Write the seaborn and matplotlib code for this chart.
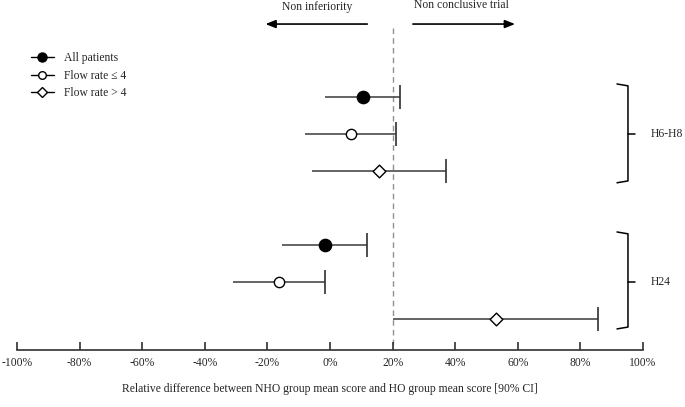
import numpy as np
import pandas as pd
import matplotlib
matplotlib.use("Agg")
import matplotlib.pyplot as plt
from matplotlib.lines import Line2D
import seaborn as sns

# ---- data ----
groups = ["H6-H8", "H6-H8", "H6-H8", "H24", "H24", "H24"]
subsets = ["All patients", "Flow rate \u2264 4", "Flow rate > 4",
           "All patients", "Flow rate \u2264 4", "Flow rate > 4"]
row_pos = [0, 1, 2, 4, 5, 6]
estimate = [10.4, 6.8, 15.5, -1.7, -16.4, 52.9]
ci_low = [-1.6, -8.0, -5.7, -15.4, -30.9, 20.0]
ci_high = [22.3, 21.0, 37.0, 11.8, -1.7, 85.7]
margin = 20
xticks = [-100, -80, -60, -40, -20, 0, 20, 40, 60, 80, 100]
xtick_labels = [f"{t}%" for t in xticks]

df = pd.DataFrame({"group": groups, "subset": subsets, "y": row_pos,
                   "est": estimate, "lo": ci_low, "hi": ci_high})

sns.set_theme(style="white")
plt.rcParams["font.family"] = ["Liberation Serif", "DejaVu Serif"]

FS = 8.4
fig = plt.figure(figsize=(6.85, 4.07), dpi=100)
H = 407.0
ax_bottom_px = 350
ax = fig.add_axes([17 / 685, (H - ax_bottom_px) / H, (643 - 17) / 685, ax_bottom_px / H])

line_col = "#4a4a4a"
ax.hlines(df["y"], df["lo"], df["hi"], color=line_col, lw=1.2, zorder=1)
ax.vlines(df["hi"], df["y"] - 0.33, df["y"] + 0.33, color="#303030", lw=1.2, zorder=1)

marker_map = {"All patients": "o", "Flow rate \u2264 4": "o", "Flow rate > 4": "D"}
face_map = {"All patients": "black", "Flow rate \u2264 4": "white", "Flow rate > 4": "white"}
size_map = {"All patients": 78, "Flow rate \u2264 4": 55, "Flow rate > 4": 42}
for s, sub in df.groupby("subset", sort=False):
    sns.scatterplot(data=sub, x="est", y="y", ax=ax, marker=marker_map[s],
                    s=size_map[s], color=face_map[s], edgecolor="black",
                    linewidth=1.0, zorder=3, legend=False)

# reference line
ax.plot([margin, margin], [-1.86, 7.2], ls=(0, (4, 3)), color="#909090", lw=1.0, zorder=0)

ax.set_xlim(-100, 100)
ax.set_ylim(6.84, -2.62)
ax.set_xticks(xticks)
ax.set_xticklabels(xtick_labels, fontsize=FS)
ax.set_yticks([])
ax.set_xlabel("Relative difference between NHO group mean score and HO group mean score [90% CI]",
              fontsize=FS, labelpad=10)
for sp in ["left", "right", "top"]:
    ax.spines[sp].set_visible(False)
ax.spines["bottom"].set_color("#303030")
ax.spines["bottom"].set_linewidth(1.2)
ax.tick_params(axis="x", direction="in", length=6, width=1.2, color="#303030", pad=5, bottom=True)
ax.set_ylabel("")

# arrows
ax.annotate("", xy=(-21.5, -1.97), xytext=(12.8, -1.97),
            arrowprops=dict(arrowstyle="-|>,head_length=0.5,head_width=0.2", color="black", lw=1.2),
            annotation_clip=False)
ax.annotate("", xy=(60.0, -1.97), xytext=(25.6, -1.97),
            arrowprops=dict(arrowstyle="-|>,head_length=0.5,head_width=0.2", color="black", lw=1.2),
            annotation_clip=False)
ax.text(-4.0, -2.42, "Non inferiority", ha="center", va="center", fontsize=FS)
ax.text(42.0, -2.48, "Non conclusive trial", ha="center", va="center", fontsize=FS)

# brackets
for label, top, bot, mid in [("H6-H8", -0.35, 2.32, 1.0), ("H24", 3.65, 6.27, 5.0)]:
    ax.plot([91.7, 95.2, 95.2, 91.7], [top, top + 0.05, bot - 0.05, bot], color="black", lw=1.1,
            clip_on=False)
    ax.plot([95.2, 97.5], [mid, mid], color="black", lw=1.1, clip_on=False)
    ax.text(102.5, mid, label, ha="left", va="center", fontsize=FS, clip_on=False)

# legend
handles = [
    Line2D([], [], color="black", lw=1.0, marker="o", markersize=6.5, markerfacecolor="black"),
    Line2D([], [], color="black", lw=1.0, marker="o", markersize=5.5, markerfacecolor="white"),
    Line2D([], [], color="black", lw=1.0, marker="D", markersize=5, markerfacecolor="white"),
]
ax.legend(handles, ["All patients", "Flow rate \u2264 4", "Flow rate > 4"],
          loc="upper left", bbox_to_anchor=(0.005, 0.88), frameon=False, fontsize=FS,
          handlelength=2.0, handletextpad=0.9, labelspacing=0.45)

fig.savefig("out.png", dpi=100)
